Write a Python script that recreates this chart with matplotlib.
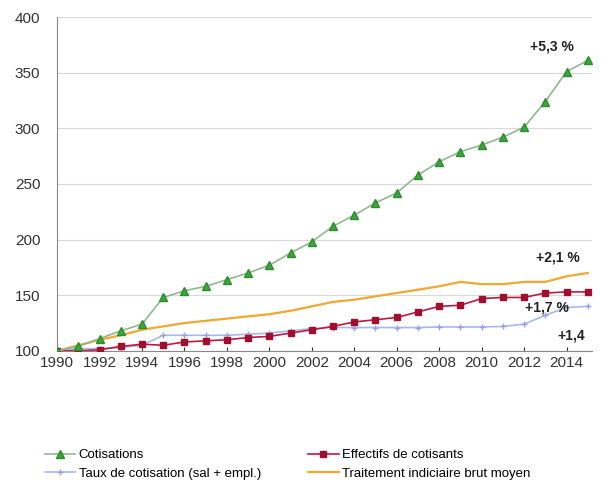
import matplotlib
matplotlib.use("Agg")
import matplotlib.pyplot as plt

plt.rcParams['font.family'] = ['Liberation Sans', 'DejaVu Sans']

years = list(range(1990, 2016))
cotisations = [100, 104, 111, 118, 124, 148, 154, 158, 164, 170, 177, 188,
               198, 212, 222, 233, 242, 258, 270, 279, 285, 292, 301, 324, 351, 361]
effectifs = [100, 100, 101, 104, 106, 105, 108, 109, 110, 112, 113, 116,
             119, 122, 126, 128, 130, 135, 140, 141, 147, 148, 148, 152, 153, 153]
taux = [100, 102, 102, 103, 105, 114, 114, 114, 114, 115, 116, 118,
        120, 121, 121, 121, 121, 121, 121.5, 121.5, 121.5, 122, 124, 132, 139, 140]
traitement = [100, 105, 110, 114, 119, 122, 125, 127, 129, 131, 133, 136,
              140, 144, 146, 149, 152, 155, 158, 162, 160, 160, 162, 162, 167, 170]

labels = ["Cotisations", "Effectifs de cotisants",
          "Taux de cotisation (sal + empl.)", "Traitement indiciaire brut moyen"]
annotations = [("+5,3 %", 2013.3, 374), ("+2,1 %", 2013.6, 184),
               ("+1,7 %", 2013.1, 139), ("+1,4", 2014.2, 114)]
xticks = list(range(1990, 2015, 2))
yticks = [100, 150, 200, 250, 300, 350, 400]

fig = plt.figure(figsize=(6.01, 4.88), dpi=100)
ax = fig.add_axes([0.095, 0.281, 0.89, 0.684])

l1, = ax.plot(years, cotisations, color='#8fb88f', lw=1.2, marker='^', ms=6,
              mfc='#3aa83a', mec='#2e8b2e', zorder=4)
l2, = ax.plot(years, effectifs, color='#c01840', lw=1.2, marker='s', ms=4,
              mfc='#a0102e', mec='#a0102e', zorder=3)
l3, = ax.plot(years, taux, color='#a8b8e8', lw=1.2, marker='+', ms=4,
              mec='#9aa0d8', zorder=2)
l4, = ax.plot(years, traitement, color='#f0a830', lw=1.6, zorder=2)

for txt, x, y in annotations:
    ax.text(x, y, txt, fontsize=10, fontweight='bold', color='#222222',
            ha='center', va='center', zorder=6)

ax.set_xlim(1990, 2015.2)
ax.set_ylim(100, 400)
ax.set_xticks(xticks)
ax.set_yticks(yticks)
ax.grid(axis='y', color='#d9d9d9', lw=0.8)
ax.set_axisbelow(True)
for s in ['top', 'right']:
    ax.spines[s].set_visible(False)
for s in ['left', 'bottom']:
    ax.spines[s].set_color('#888888')
ax.tick_params(axis='both', labelsize=11, colors='#333333', length=3)
ax.tick_params(axis='x', direction='in', pad=4)
ax.tick_params(axis='y', length=0, pad=12)

fig.legend([l1, l3, l2, l4], [labels[0], labels[2], labels[1], labels[3]],
           loc='lower left', ncol=2, bbox_to_anchor=(0.055, -0.008), frameon=False,
           fontsize=9.5, handlelength=2.3, columnspacing=3.6, labelspacing=0.5,
           handletextpad=0.25)

fig.savefig("out.png", dpi=100)
